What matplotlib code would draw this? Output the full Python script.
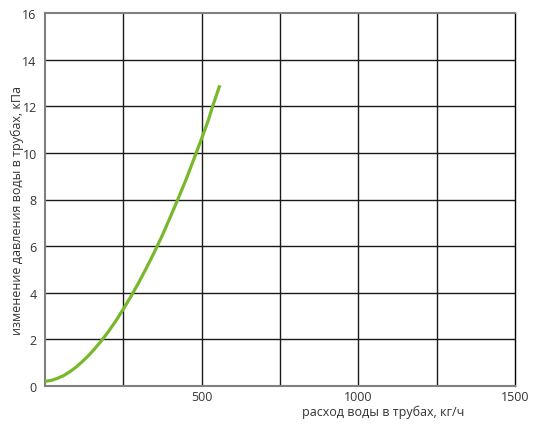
import matplotlib
matplotlib.use("Agg")
import matplotlib.pyplot as plt

flow = [0, 20, 40, 60, 80, 100, 120, 140, 160, 180, 200, 225, 250, 275, 300,
        325, 350, 375, 400, 425, 450, 475, 500, 520, 535, 558]
dp = [0.2, 0.24, 0.33, 0.45, 0.62, 0.82, 1.06, 1.32, 1.62, 1.94, 2.29, 2.77,
      3.3, 3.86, 4.46, 5.1, 5.77, 6.48, 7.25, 8.04, 8.85, 9.73, 10.62, 11.35,
      12.0, 12.9]
xticks = [500, 1000, 1500]
xgrid = [250, 500, 750, 1000, 1250]
yticks = [0, 2, 4, 6, 8, 10, 12, 14, 16]

plt.rcParams['font.family'] = ['Open Sans', 'DejaVu Sans']
fig = plt.figure(figsize=(5.6, 4.27), dpi=100)
ax = fig.add_axes([45/560, 1-387/427, 470/560, 373/427])
ax.set_xlim(0, 1500)
ax.set_ylim(0, 16)

for g in xgrid:
    ax.axvline(g, color='#1a1a1a', lw=1.0, zorder=1)
for g in yticks[1:-1]:
    ax.axhline(g, color='#1a1a1a', lw=1.0, zorder=1)

ax.plot(flow, dp, color='#78b82a', lw=2.3, solid_capstyle='butt', zorder=3)

ax.set_xticks(xticks)
ax.set_xticklabels([str(t) for t in xticks])
ax.set_yticks(yticks)
ax.set_yticklabels([str(t) for t in yticks])
ax.tick_params(axis='y', length=0, labelsize=9, colors='#333333', pad=6)
ax.tick_params(axis='x', length=0, labelsize=9, colors='#333333', pad=3)

for s in ['top', 'left', 'bottom']:
    ax.spines[s].set_color('#808080')
    ax.spines[s].set_linewidth(1.5)
ax.spines['right'].set_color('#000000')
ax.spines['right'].set_linewidth(1.0)

ax.text(0.719, -0.067, 'расход воды в трубах, кг/ч', transform=ax.transAxes,
        ha='center', va='center', fontsize=9, color='#333333')
ax.text(-0.059, 0.472, 'изменение давления воды в трубах, кПа', transform=ax.transAxes,
        ha='center', va='center', rotation=90, fontsize=9, color='#333333')

fig.savefig('out.png', dpi=100)
